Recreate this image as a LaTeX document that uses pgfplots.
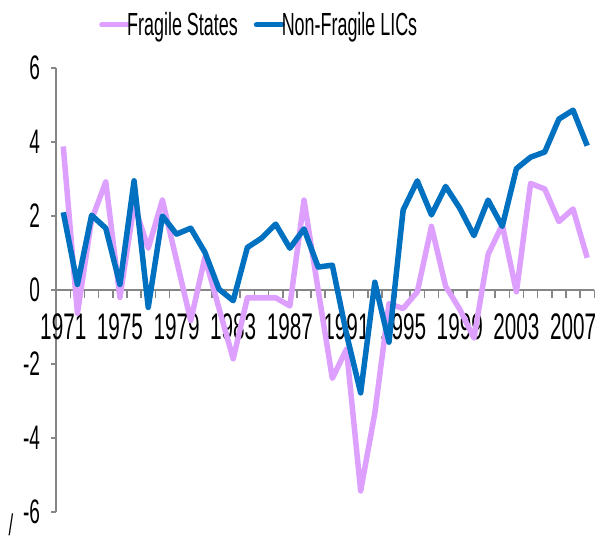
\documentclass[border=0pt]{standalone}
\usepackage{fontspec}
\setmainfont[FakeStretch=0.56]{Liberation Sans}
\usepackage{pgfplots}
\pgfplotsset{compat=1.18}
\usetikzlibrary{calc}
\definecolor{fragile}{RGB}{222,160,255}
\definecolor{nonfragile}{RGB}{0,112,192}
\definecolor{axgray}{RGB}{134,134,134}
\pgfplotstableread{
year val
1971 3.88
1972 -0.63
1973 1.9
1974 2.92
1975 -0.2
1976 2.3
1977 1.13
1978 2.43
1979 0.8
1980 -0.83
1981 0.88
1982 -0.5
1983 -1.86
1984 -0.21
1985 -0.21
1986 -0.21
1987 -0.43
1988 2.43
1989 0.0
1990 -2.39
1991 -1.6
1992 -5.43
1993 -3.33
1994 -0.37
1995 -0.5
1996 -0.05
1997 1.72
1998 0.1
1999 -0.52
2000 -1.3
2001 0.96
2002 1.76
2003 -0.05
2004 2.88
2005 2.73
2006 1.85
2007 2.19
2008 0.87
}\fragiledata
\pgfplotstableread{
year val
1971 2.1
1972 0.15
1973 2.02
1974 1.67
1975 0.15
1976 2.95
1977 -0.47
1978 2.0
1979 1.51
1980 1.67
1981 1.02
1982 0.02
1983 -0.29
1984 1.15
1985 1.40
1986 1.78
1987 1.13
1988 1.65
1989 0.62
1990 0.67
1991 -1.19
1992 -2.78
1993 0.21
1994 -1.41
1995 2.16
1996 2.95
1997 2.03
1998 2.8
1999 2.21
2000 1.47
2001 2.43
2002 1.72
2003 3.28
2004 3.59
2005 3.73
2006 4.62
2007 4.86
2008 3.9
}\nonfragiledata
\begin{document}
\begin{tikzpicture}
\begin{axis}[
  name=ax,
  at={(0pt,0pt)}, anchor=south west,
  scale only axis,
  width=538.1pt, height=444pt,
  xmin=1970.5, xmax=2008.5,
  ymin=-6, ymax=6,
  axis x line=middle, axis y line=left,
  axis line style={-, draw=axgray, line width=1.6pt},
  hide obscured x ticks=false, hide obscured y ticks=false,
  xtick={1971,1975,...,2007},
  xticklabels={1971,1975,1979,1983,1987,1991,1995,1999,2003,2007},
  ytick={-6,-4,...,6},
  yticklabels={-6,-4,-2,0,2,4,6},
  major tick length=0pt,
  tick style={draw=none},
  xticklabel style={font=\fontsize{37}{44}\selectfont, anchor=north, inner sep=0pt, yshift=-23pt},
  yticklabel style={font=\fontsize{34}{40}\selectfont, anchor=east, inner sep=0pt, xshift=-16pt},
  legend style={at={(0.0796,1.097)}, anchor=west, draw=none, fill=none,
    font=\fontsize{32}{38}\selectfont, inner sep=0pt,
    /tikz/every odd column/.append style={column sep=-5pt},
    /tikz/every even column/.append style={column sep=14pt}},
  legend columns=2,
  legend image code/.code={\draw[#1, line width=5pt, line cap=round] (0pt,0pt) -- (26pt,0pt);},
  clip=false,
]
% tick marks of the category axis (at the category boundaries) and of the value axis
\pgfplotsinvokeforeach{1970.5,1971.5,...,2008.5}{
  \draw[axgray, line width=1.6pt] (axis cs:#1,0) -- ++(0pt,-8pt);
}
\pgfplotsinvokeforeach{-6,-4,...,6}{
  \draw[axgray, line width=1.6pt] (axis cs:1970.5,#1) -- ++(-5pt,0pt);
}
\addplot[fragile, line width=5.5pt, line join=round] table[x=year, y=val] {\fragiledata};
\addlegendentry{Fragile States}
\addplot[nonfragile, line width=5.5pt, line join=round] table[x=year, y=val] {\nonfragiledata};
\addlegendentry{Non-Fragile LICs}
\node[font=\fontsize{30}{34}\selectfont, inner sep=0pt, anchor=base] at (axis description cs:-0.084,-0.054) {/};
\end{axis}
\pgfresetboundingbox
\path[use as bounding box] ($(ax.south west)+(-56.2pt,-32pt)$) rectangle ($(ax.north east)+(1.7pt,68pt)$);
\end{tikzpicture}
\end{document}
